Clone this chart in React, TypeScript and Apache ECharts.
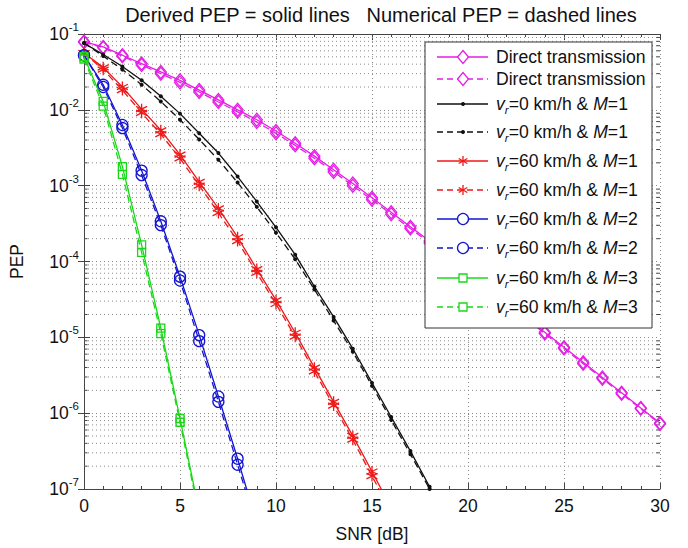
import React, { useEffect, useRef } from "react";
import * as echarts from "echarts";

// SNR [dB] sample points for each curve
const snrDirect = [0, 1, 2, 3, 4, 5, 6, 7, 8, 9, 10, 11, 12, 13, 14, 15, 16, 17, 18, 19, 20, 21, 22, 23, 24, 25, 26, 27, 28, 29, 30];
const snrV0M1 = [0, 1, 2, 3, 4, 5, 6, 7, 8, 9, 10, 11, 12, 13, 14, 15, 16, 17, 18, 19];
const snrV60M1 = [0, 1, 2, 3, 4, 5, 6, 7, 8, 9, 10, 11, 12, 13, 14, 15, 16];
const snrV60M2 = [0, 1, 2, 3, 4, 5, 6, 7, 8, 9];
const snrV60M3 = [0, 1, 2, 3, 4, 5, 6];

// PEP values (derived = solid, numerical = dashed)
const directDerived = [7.94e-2, 6.76e-2, 5.25e-2, 4.07e-2, 3.16e-2, 2.45e-2, 1.82e-2, 1.35e-2, 1.0e-2, 7.41e-3, 5.25e-3, 3.63e-3, 2.45e-3, 1.62e-3, 1.07e-3, 6.92e-4, 4.47e-4, 2.88e-4, 1.86e-4, 1.17e-4, 7.41e-5, 4.68e-5, 2.95e-5, 1.86e-5, 1.17e-5, 7.41e-6, 4.68e-6, 2.95e-6, 1.86e-6, 1.17e-6, 7.41e-7];
const directNumerical = [7.8e-2, 6.6e-2, 5.1e-2, 3.9e-2, 3.0e-2, 2.3e-2, 1.72e-2, 1.27e-2, 9.4e-3, 6.9e-3, 4.9e-3, 3.4e-3, 2.3e-3, 1.52e-3, 1.0e-3, 6.5e-4, 4.2e-4, 2.72e-4, 1.76e-4, 1.11e-4, 7.0e-5, 4.45e-5, 2.82e-5, 1.78e-5, 1.12e-5, 7.1e-6, 4.5e-6, 2.85e-6, 1.8e-6, 1.14e-6, 7.2e-7];
const v0M1Derived = [7.59e-2, 5.37e-2, 3.72e-2, 2.45e-2, 1.51e-2, 8.91e-3, 4.9e-3, 2.69e-3, 1.32e-3, 6.17e-4, 2.82e-4, 1.23e-4, 4.68e-5, 1.86e-5, 7.08e-6, 2.51e-6, 8.91e-7, 3.16e-7, 1.07e-7, 3.55e-8];
const v0M1Numerical = [7.59e-2, 5.13e-2, 3.39e-2, 2.14e-2, 1.29e-2, 7.41e-3, 4.07e-3, 2.19e-3, 1.1e-3, 5.25e-4, 2.4e-4, 1.07e-4, 4.27e-5, 1.66e-5, 6.46e-6, 2.29e-6, 8.13e-7, 2.88e-7, 1.0e-7, 3.3e-8];
const v60M1Derived = [5.62e-2, 3.63e-2, 2.0e-2, 1.02e-2, 5.37e-3, 2.57e-3, 1.12e-3, 5.01e-4, 2.09e-4, 7.94e-5, 3.09e-5, 1.15e-5, 3.98e-6, 1.41e-6, 5.01e-7, 1.7e-7, 5.62e-8];
const v60M1Numerical = [5.62e-2, 3.39e-2, 1.82e-2, 9.12e-3, 4.79e-3, 2.29e-3, 1.0e-3, 4.37e-4, 1.86e-4, 7.08e-5, 2.75e-5, 1.02e-5, 3.55e-6, 1.26e-6, 4.47e-7, 1.48e-7, 5.0e-8];
const v60M2Derived = [5.25e-2, 2.14e-2, 6.31e-3, 1.58e-3, 3.39e-4, 6.31e-5, 1.07e-5, 1.66e-6, 2.51e-7, 3.55e-8];
const v60M2Numerical = [5.25e-2, 2.0e-2, 5.75e-3, 1.38e-3, 3.02e-4, 5.62e-5, 8.91e-6, 1.41e-6, 2.09e-7, 3.16e-8];
const v60M3Derived = [5.01e-2, 1.29e-2, 1.78e-3, 1.66e-4, 1.32e-5, 8.51e-7, 5.0e-8];
const v60M3Numerical = [4.68e-2, 1.12e-2, 1.41e-3, 1.32e-4, 1.12e-5, 7.59e-7, 4.47e-8];

// axis settings
const xTicks = [0, 5, 10, 15, 20, 25, 30];
const yDecades = [-7, -6, -5, -4, -3, -2, -1];
const minorMantissas = [2, 3, 4, 5, 6, 7, 8, 9];

const titleText = "Derived PEP = solid lines   Numerical PEP = dashed lines";
const xName = "SNR [dB]";
const yName = "PEP";

const MAGENTA = "#e61ee6";
const BLACK = "#111111";
const RED = "#f01818";
const BLUE = "#1414d2";
const GREEN = "#18d818";

const FONT = "'Liberation Sans', Arial, Helvetica, sans-serif";
const STAR = "path://M5 0 L5 10 M0.67 2.5 L9.33 7.5 M0.67 7.5 L9.33 2.5";

function pairs(xs: number[], ys: number[]) {
  return xs.map((x, i) => [x, ys[i]]);
}

export default function App() {
  const ref = useRef<HTMLDivElement>(null);

  useEffect(() => {
    if (!ref.current) return;
    const chart = echarts.init(ref.current, undefined, { renderer: "svg" });

    const gridL = 82, gridR = 28, gridT = 34, gridB = 59;

    const minorVals: number[][] = [];
    yDecades.slice(0, -1).forEach((d) => {
      minorMantissas.forEach((m) => minorVals.push([0, m * Math.pow(10, d)]));
    });

    const lineSeries = (
      name: string,
      data: number[][],
      color: string,
      dashed: boolean,
      symbol: string,
      size: number | number[],
      filled: boolean,
      z: number
    ) => ({
      name,
      type: "line",
      data,
      z,
      silent: true,
      clip: true,
      symbol,
      symbolSize: size,
      showSymbol: true,
      lineStyle: { color, width: 1.3, type: dashed ? [7, 4] : "solid" },
      itemStyle: filled
        ? { color, borderColor: color, borderWidth: 0 }
        : { color: "rgba(0,0,0,0)", borderColor: color, borderWidth: 1.3 },
      emphasis: { disabled: true },
    });

    const rowYs = [57, 79, 104, 132, 161, 190, 219, 248, 278, 307];
    const legendRows = [
      { color: MAGENTA, dashed: false, mark: "diamond", label: null, speed: "", m: "" },
      { color: MAGENTA, dashed: true, mark: "diamond", label: null, speed: "", m: "" },
      { color: BLACK, dashed: false, mark: "dot", label: 1, speed: "0", m: "1" },
      { color: BLACK, dashed: true, mark: "dot", label: 1, speed: "0", m: "1" },
      { color: RED, dashed: false, mark: "star", label: 1, speed: "60", m: "1" },
      { color: RED, dashed: true, mark: "star", label: 1, speed: "60", m: "1" },
      { color: BLUE, dashed: false, mark: "circle", label: 1, speed: "60", m: "2" },
      { color: BLUE, dashed: true, mark: "circle", label: 1, speed: "60", m: "2" },
      { color: GREEN, dashed: false, mark: "square", label: 1, speed: "60", m: "3" },
      { color: GREEN, dashed: true, mark: "square", label: 1, speed: "60", m: "3" },
    ];

    const lx0 = 437, lx1 = 488, mx = 463, tx = 496;
    const LFS = 17.6;
    const legendEls: any[] = [
      {
        type: "rect",
        shape: { x: 425, y: 42, width: 227, height: 286 },
        style: { fill: "#fff", stroke: "#333", lineWidth: 1 },
        z: 100,
      },
    ];
    legendRows.forEach((r, i) => {
      const y = rowYs[i];
      legendEls.push({
        type: "line",
        shape: { x1: lx0, y1: y, x2: lx1, y2: y },
        style: { stroke: r.color, lineWidth: 1.3, lineDash: r.dashed ? [6, 4] : null },
        z: 101,
      });
      if (r.mark === "diamond") {
        legendEls.push({
          type: "polygon",
          shape: { points: [[mx, y - 6.5], [mx + 5.5, y], [mx, y + 6.5], [mx - 5.5, y]] },
          style: { fill: "#fff", stroke: r.color, lineWidth: 1.3 },
          z: 102,
        });
      } else if (r.mark === "dot") {
        legendEls.push({ type: "circle", shape: { cx: mx, cy: y, r: 2 }, style: { fill: r.color }, z: 102 });
      } else if (r.mark === "circle") {
        legendEls.push({ type: "circle", shape: { cx: mx, cy: y, r: 5.5 }, style: { fill: "#fff", stroke: r.color, lineWidth: 1.3 }, z: 102 });
      } else if (r.mark === "square") {
        legendEls.push({ type: "rect", shape: { x: mx - 4, y: y - 4, width: 8, height: 8 }, style: { fill: "#fff", stroke: r.color, lineWidth: 1.3 }, z: 102 });
      } else if (r.mark === "star") {
        legendEls.push({ type: "line", shape: { x1: mx, y1: y - 5, x2: mx, y2: y + 5 }, style: { stroke: r.color, lineWidth: 1.3 }, z: 102 });
        legendEls.push({ type: "line", shape: { x1: mx - 4.3, y1: y - 2.5, x2: mx + 4.3, y2: y + 2.5 }, style: { stroke: r.color, lineWidth: 1.3 }, z: 102 });
        legendEls.push({ type: "line", shape: { x1: mx - 4.3, y1: y + 2.5, x2: mx + 4.3, y2: y - 2.5 }, style: { stroke: r.color, lineWidth: 1.3 }, z: 102 });
      }
      if (r.label === null) {
        legendEls.push({
          type: "text",
          x: tx,
          y,
          style: { text: "Direct transmission", fontSize: LFS, fontFamily: FONT, fill: "#111", verticalAlign: "middle", align: "left" },
          z: 102,
        });
      } else {
        legendEls.push({
          type: "text",
          x: tx,
          y,
          style: {
            text: `{v|v}{r|r}{t|=${r.speed} km/h & }{m|M}{t|=${r.m}}`,
            fontSize: LFS,
            fontFamily: FONT,
            fill: "#111",
            verticalAlign: "middle",
            align: "left",
            rich: {
              v: { fontSize: LFS, fontStyle: "italic", lineHeight: 24, fontFamily: FONT, fill: "#111" },
              r: { fontSize: 11.5, fontStyle: "italic", lineHeight: 11, verticalAlign: "bottom", fontFamily: FONT, fill: "#111" },
              t: { fontSize: LFS, lineHeight: 24, fontFamily: FONT, fill: "#111" },
              m: { fontSize: LFS, fontStyle: "italic", lineHeight: 24, fontFamily: FONT, fill: "#111" },
            },
          },
          z: 102,
        });
      }
    });

    const gridLine = { show: true, lineStyle: { color: "#8a8a8a", type: [1, 3], width: 1 } };
    const axisLineStyle = { show: true, lineStyle: { color: "#444", width: 1 } };
    const tickStyle = { show: true, inside: true, length: 6, lineStyle: { color: "#444" } };
    const minorTickStyle = { show: true, splitNumber: 5, length: 3, lineStyle: { color: "#444" } };

    const option: any = {
      animation: false,
      backgroundColor: "#fff",
      grid: { left: gridL, right: gridR, top: gridT, bottom: gridB, containLabel: false },
      xAxis: [
        {
          type: "value",
          min: xTicks[0],
          max: xTicks[xTicks.length - 1],
          interval: 5,
          name: xName,
          nameLocation: "middle",
          nameGap: 36,
          nameTextStyle: { fontSize: 17.5, fontFamily: FONT, color: "#111" },
          axisLine: axisLineStyle,
          axisTick: tickStyle,
          minorTick: minorTickStyle,
          axisLabel: { fontSize: 17.5, fontFamily: FONT, color: "#111", margin: 8 },
          splitLine: gridLine,
        },
        {
          type: "value",
          position: "top",
          min: xTicks[0],
          max: xTicks[xTicks.length - 1],
          interval: 5,
          axisLine: axisLineStyle,
          axisTick: tickStyle,
          minorTick: minorTickStyle,
          axisLabel: { show: false },
          splitLine: { show: false },
        },
      ],
      yAxis: [
        {
          type: "log",
          logBase: 10,
          min: 1e-7,
          max: 1e-1,
          name: yName,
          nameLocation: "middle",
          nameGap: 58,
          nameTextStyle: { fontSize: 17.5, fontFamily: FONT, color: "#111" },
          axisLine: axisLineStyle,
          axisTick: tickStyle,
          axisLabel: {
            margin: 5,
            formatter: (v: number) => `{b|10}{e|${Math.round(Math.log10(v))}}`,
            rich: {
              b: { fontSize: 17.5, lineHeight: 26, fontFamily: FONT, color: "#111" },
              e: { fontSize: 11.5, lineHeight: 11, verticalAlign: "top", fontFamily: FONT, color: "#111" },
            },
          },
          splitLine: gridLine,
        },
        {
          type: "log",
          logBase: 10,
          min: 1e-7,
          max: 1e-1,
          position: "right",
          axisLine: axisLineStyle,
          axisTick: tickStyle,
          axisLabel: { show: false },
          splitLine: { show: false },
        },
      ],
      graphic: [
        {
          type: "text",
          x: 381,
          y: 15,
          style: { text: titleText, fontSize: 20, fontFamily: FONT, fill: "#111", align: "center", verticalAlign: "middle" },
          z: 100,
        },
        ...legendEls,
      ],
      series: [
        {
          type: "custom",
          silent: true,
          z: 1,
          clip: false,
          data: minorVals,
          renderItem: (params: any, api: any) => {
            const v = api.value(1);
            const p0 = api.coord([xTicks[0], v]);
            const p1 = api.coord([xTicks[xTicks.length - 1], v]);
            return {
              type: "group",
              children: [
                { type: "line", shape: { x1: p0[0], y1: p0[1], x2: p1[0], y2: p1[1] }, style: { stroke: "#8a8a8a", lineWidth: 1, lineDash: [1, 3] } },
                { type: "line", shape: { x1: p0[0], y1: p0[1], x2: p0[0] + 3.5, y2: p0[1] }, style: { stroke: "#444", lineWidth: 1 } },
                { type: "line", shape: { x1: p1[0] - 3.5, y1: p1[1], x2: p1[0], y2: p1[1] }, style: { stroke: "#444", lineWidth: 1 } },
              ],
            };
          },
        },
        lineSeries("Direct transmission (derived)", pairs(snrDirect, directDerived), MAGENTA, false, "diamond", [11, 13], false, 2),
        lineSeries("Direct transmission (numerical)", pairs(snrDirect, directNumerical), MAGENTA, true, "diamond", [11, 13], false, 2),
        lineSeries("vr=0 M=1 (derived)", pairs(snrV0M1, v0M1Derived), BLACK, false, "circle", 4, true, 3),
        lineSeries("vr=0 M=1 (numerical)", pairs(snrV0M1, v0M1Numerical), BLACK, true, "circle", 4, true, 3),
        lineSeries("vr=60 M=1 (derived)", pairs(snrV60M1, v60M1Derived), RED, false, STAR, 11, false, 4),
        lineSeries("vr=60 M=1 (numerical)", pairs(snrV60M1, v60M1Numerical), RED, true, STAR, 11, false, 4),
        lineSeries("vr=60 M=2 (derived)", pairs(snrV60M2, v60M2Derived), BLUE, false, "circle", 11, false, 5),
        lineSeries("vr=60 M=2 (numerical)", pairs(snrV60M2, v60M2Numerical), BLUE, true, "circle", 11, false, 5),
        lineSeries("vr=60 M=3 (derived)", pairs(snrV60M3, v60M3Derived), GREEN, false, "rect", 8, false, 6),
        lineSeries("vr=60 M=3 (numerical)", pairs(snrV60M3, v60M3Numerical), GREEN, true, "rect", 8, false, 6),
      ],
    };

    chart.setOption(option);
    return () => chart.dispose();
  }, []);

  return (
    <div
      ref={ref}
      style={{ position: "fixed", left: 0, top: 0, width: 688, height: 548, background: "#fff" }}
    />
  );
}
